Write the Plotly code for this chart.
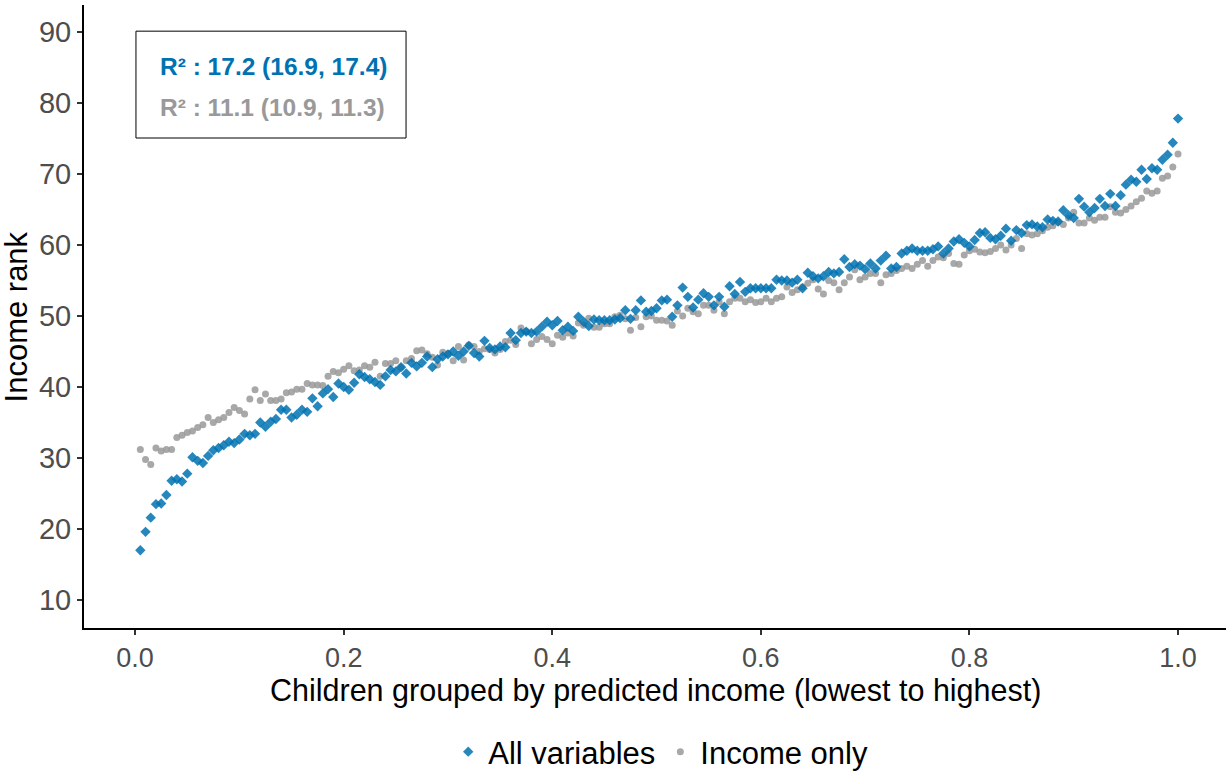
import plotly.graph_objects as go

# x: children grouped by predicted income (200 groups)
group_x = [round(0.005 * i, 3) for i in range(1, 201)]

all_variables = [
    17.0, 19.6, 21.6, 23.5, 23.6, 24.8, 26.8, 27.0, 26.7, 27.8,
    30.1, 29.6, 29.3, 30.3, 31.1, 31.4, 31.8, 32.3, 32.1, 32.6,
    33.4, 33.2, 33.4, 35.0, 34.4, 35.1, 35.5, 36.8, 36.8, 35.7,
    36.1, 36.8, 36.5, 38.4, 37.3, 39.1, 39.7, 38.6, 40.5, 40.0,
    39.6, 40.6, 41.8, 41.4, 41.1, 40.7, 40.3, 41.5, 42.4, 42.2,
    42.8, 41.9, 43.4, 42.9, 43.4, 44.3, 42.8, 43.9, 44.3, 44.6,
    45.0, 44.4, 45.0, 45.8, 44.8, 44.3, 46.5, 45.5, 45.3, 45.7,
    45.6, 47.6, 46.6, 47.6, 47.8, 47.6, 47.8, 48.5, 49.2, 48.7,
    49.3, 48.0, 48.5, 47.9, 49.9, 49.2, 48.6, 49.5, 49.4, 49.4,
    49.4, 49.5, 49.7, 50.8, 49.6, 50.8, 52.2, 50.6, 50.7, 51.1,
    52.2, 52.3, 49.9, 51.5, 54.0, 52.7, 51.2, 52.3, 53.2, 52.7,
    51.5, 52.7, 51.3, 54.2, 53.1, 54.8, 53.4, 53.9, 53.9, 53.9,
    53.9, 53.9, 55.1, 55.0, 55.0, 54.7, 55.1, 53.9, 56.1, 55.6,
    55.3, 55.6, 56.2, 56.0, 56.2, 58.0, 56.9, 57.3, 57.1, 56.6,
    57.4, 56.7, 57.8, 58.5, 56.7, 56.9, 58.8, 59.2, 59.5, 59.2,
    59.2, 59.2, 59.4, 59.8, 58.8, 59.5, 60.5, 60.8, 60.3, 59.8,
    60.7, 61.7, 61.8, 61.0, 60.8, 61.3, 62.3, 60.6, 62.1, 61.7,
    62.8, 62.9, 62.6, 62.5, 63.6, 63.4, 63.3, 64.9, 64.2, 63.8,
    66.5, 65.4, 64.6, 65.2, 66.5, 65.5, 67.2, 65.5, 67.0, 68.5,
    69.2, 68.9, 70.6, 69.3, 70.8, 70.6, 72.0, 72.7, 74.4, 77.8,
]

income_only = [
    31.2, 29.8, 29.1, 31.4, 31.0, 31.2, 31.2, 32.9, 33.2, 33.6,
    33.8, 34.3, 34.7, 35.7, 35.0, 35.4, 35.7, 36.4, 37.1, 36.7,
    36.2, 38.3, 39.6, 38.1, 39.0, 38.1, 38.1, 38.3, 39.2, 39.3,
    39.7, 39.7, 40.5, 40.3, 40.3, 40.2, 41.5, 42.2, 42.0, 42.5,
    43.0, 42.3, 42.4, 43.0, 42.8, 43.5, 41.5, 43.3, 43.3, 43.7,
    42.8, 43.7, 44.0, 45.1, 45.2, 44.7, 44.2, 43.1, 44.9, 44.7,
    43.7, 45.7, 43.8, 45.9, 45.7, 45.0, 45.4, 45.3, 44.8, 45.3,
    46.4, 46.6, 46.0, 48.3, 47.8, 46.1, 46.7, 47.1, 46.7, 46.1,
    47.3, 47.0, 47.6, 47.2, 49.0, 48.7, 49.7, 48.4, 48.4, 48.9,
    48.9, 49.9, 50.1, 49.6, 48.0, 49.8, 48.5, 49.9, 50.0, 49.4,
    49.4, 49.3, 48.7, 50.7, 50.0, 51.1, 50.6, 50.3, 51.5, 51.5,
    50.8, 52.0, 50.3, 52.0, 52.5, 52.5, 52.0, 52.3, 51.9, 52.0,
    52.5, 52.0, 52.5, 52.7, 54.1, 53.3, 53.7, 54.1, 54.6, 55.1,
    53.8, 53.1, 55.0, 54.7, 53.7, 54.7, 55.5, 56.5, 55.1, 55.5,
    56.0, 56.0, 54.7, 55.8, 56.0, 56.4, 56.7, 57.0, 56.7, 57.3,
    57.8, 57.0, 57.8, 58.3, 58.2, 58.8, 57.4, 57.3, 58.6, 59.2,
    59.4, 59.0, 58.9, 59.1, 59.5, 60.0, 59.3, 60.0, 60.9, 59.5,
    61.6, 61.4, 61.6, 62.0, 62.5, 62.7, 63.2, 62.9, 63.8, 64.6,
    63.1, 63.1, 63.8, 63.5, 63.9, 63.9, 65.4, 64.6, 64.5, 65.0,
    65.5, 66.1, 66.6, 67.6, 67.3, 67.6, 69.4, 69.7, 71.0, 72.8,
]

series_names = ["All variables", "Income only"]
r2_labels = ["R² : 17.2 (16.9, 17.4)", "R² : 11.1 (10.9, 11.3)"]
x_ticks = [0.0, 0.2, 0.4, 0.6, 0.8, 1.0]
y_ticks = [10, 20, 30, 40, 50, 60, 70, 80, 90]

BLUE = "#0072B2"
GREY = "#999999"
FONT = "Liberation Sans, Arial, Helvetica, sans-serif"

fig = go.Figure()
fig.add_trace(go.Scatter(
    x=group_x, y=income_only, mode="markers", name=series_names[1],
    marker=dict(symbol="circle", size=7, color=GREY, opacity=0.85, line=dict(width=0)),
    legendrank=2,
))
fig.add_trace(go.Scatter(
    x=group_x, y=all_variables, mode="markers", name=series_names[0],
    marker=dict(symbol="diamond", size=8, color=BLUE, opacity=0.85, line=dict(width=0)),
    legendrank=1,
))

fig.update_layout(
    width=1228, height=771,
    margin=dict(l=84, r=2, t=5, b=143, autoexpand=False),
    plot_bgcolor="white", paper_bgcolor="white",
    font=dict(family=FONT, color="black"),
    showlegend=True,
    legend=dict(
        orientation="h", x=0.505, xanchor="center", y=-0.199, yanchor="middle",
        font=dict(size=31, color="black"), itemwidth=30, tracegroupgap=0,
    ),
    xaxis=dict(
        range=[-0.049, 1.046], tickvals=x_ticks, tickformat=".1f",
        showgrid=False, zeroline=False, showline=True, linecolor="black", linewidth=2,
        ticks="outside", ticklen=5, tickwidth=1.5, tickcolor="#333333",
        tickfont=dict(size=27, color="#4D4D4D"),
    ),
    yaxis=dict(
        range=[6.06, 93.8], tickvals=y_ticks,
        showgrid=False, zeroline=False, showline=True, linecolor="black", linewidth=2,
        ticks="outside", ticklen=5, tickwidth=1.5, tickcolor="#333333",
        tickfont=dict(size=29, color="#4D4D4D"),
    ),
    annotations=[
        dict(text="Children grouped by predicted income (lowest to highest)",
             xref="paper", yref="paper", x=0.5, y=-0.1, xanchor="center", yanchor="middle",
             showarrow=False, font=dict(size=30.5, color="black")),
        dict(text="Income rank", xref="paper", yref="paper", x=-0.0587, y=0.5,
             xanchor="center", yanchor="middle", textangle=-90,
             showarrow=False, font=dict(size=31, color="black")),
        dict(text="<b>" + r2_labels[0] + "</b>", xref="paper", yref="paper",
             x=0.0648, y=0.902, xanchor="left", yanchor="middle",
             showarrow=False, font=dict(size=24.5, color=BLUE)),
        dict(text="<b>" + r2_labels[1] + "</b>", xref="paper", yref="paper",
             x=0.0648, y=0.836, xanchor="left", yanchor="middle",
             showarrow=False, font=dict(size=24.5, color=GREY)),
    ],
    shapes=[
        dict(type="rect", xref="paper", yref="paper", x0=0.0455, x1=0.282,
             y0=0.7865, y1=0.958, line=dict(color="black", width=1), fillcolor="rgba(0,0,0,0)"),
    ],
)

fig.write_html("out.html")
